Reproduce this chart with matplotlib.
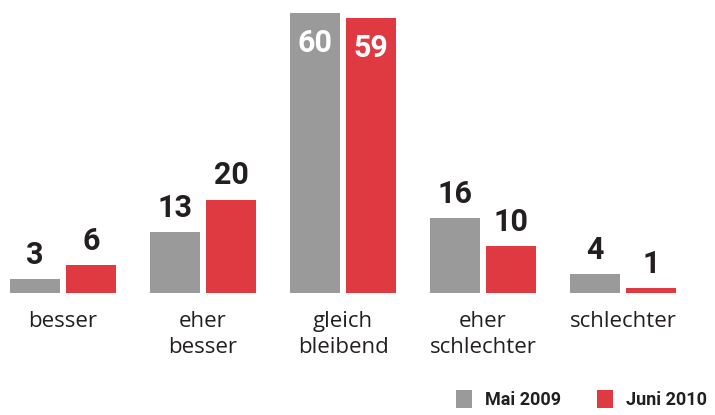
import numpy as np
import matplotlib
matplotlib.use("Agg")
import matplotlib.pyplot as plt

# Daten
kategorien = ["besser", "eher\nbesser", "gleich\nbleibend", "eher\nschlechter", "schlechter"]
mai_2009 = [3, 13, 60, 16, 4]
juni_2010 = [6, 20, 59, 10, 1]
serien = ["Mai 2009", "Juni 2010"]

GRAU = "#999a99"
ROT = "#df3942"
TEXT = "#231f20"

fig = plt.figure(figsize=(7.15, 4.15), dpi=100)
ax = fig.add_axes([0, 122 / 415, 1, 293 / 415])

x = np.arange(len(kategorien))
breite = 0.357
b1 = ax.bar(x - 0.2, mai_2009, breite, color=GRAU, label=serien[0])
b2 = ax.bar(x + 0.2, juni_2010, breite, color=ROT, label=serien[1])

ax.set_xlim(-0.45, 4.657)
ax.set_ylim(0, 62.8)

# Werte beschriften: über dem Balken, beim höchsten Balken innen in weiß
for bars, werte in [(b1, mai_2009), (b2, juni_2010)]:
    for bar, w in zip(bars, werte):
        cx = bar.get_x() + bar.get_width() / 2
        if w >= 50:
            ax.annotate(str(w), (cx, w), xytext=(0, -11), textcoords="offset points",
                        ha="center", va="top", fontsize=22, fontweight="bold",
                        family="Roboto", color="white")
        else:
            ax.annotate(str(w), (cx, w), xytext=(0, 11), textcoords="offset points",
                        ha="center", va="baseline", fontsize=22, fontweight="bold",
                        family="Roboto", color=TEXT)

ax.set_xticks(x)
ax.set_xticklabels(kategorien, fontsize=16, family="Open Sans", color=TEXT,
                   linespacing=1.3)
ax.tick_params(axis="x", length=0, pad=13)
ax.set_yticks([])
for s in ax.spines.values():
    s.set_visible(False)

fig.legend(handles=[b1, b2], labels=serien, loc="lower right",
           bbox_to_anchor=(1.012, -0.025), ncol=2, frameon=False,
           handlelength=0.85, handleheight=1.2, handletextpad=0.75,
           columnspacing=2.0, prop={"family": "Roboto", "weight": "bold", "size": 13},
           labelcolor=TEXT)

fig.savefig("out.png", dpi=100)
